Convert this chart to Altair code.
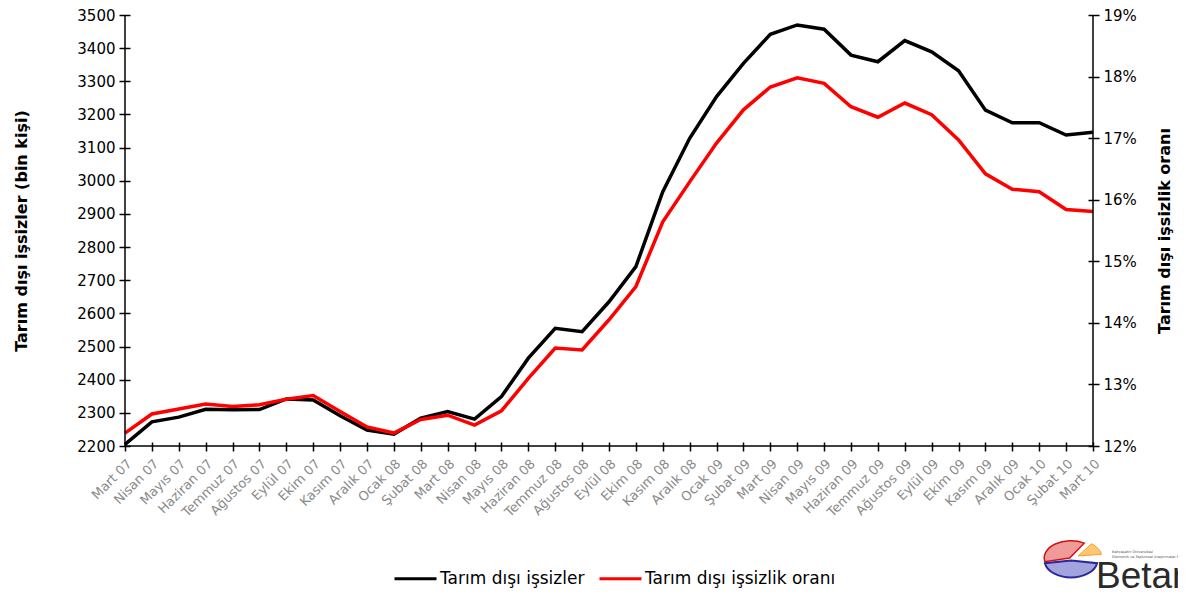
import altair as alt
import pandas as pd

months = ["Mart 07", "Nisan 07", "Mayıs 07", "Haziran 07", "Temmuz 07", "Ağustos 07",
          "Eylül 07", "Ekim 07", "Kasım 07", "Aralık 07", "Ocak 08", "Şubat 08",
          "Mart 08", "Nisan 08", "Mayıs 08", "Haziran 08", "Temmuz 08", "Ağustos 08",
          "Eylül 08", "Ekim 08", "Kasım 08", "Aralık 08", "Ocak 09", "Şubat 09",
          "Mart 09", "Nisan 09", "Mayıs 09", "Haziran 09", "Temmuz 09", "Ağustos 09",
          "Eylül 09", "Ekim 09", "Kasım 09", "Aralık 09", "Ocak 10", "Şubat 10", "Mart 10"]

unemployed = [2205, 2273, 2287, 2311, 2309, 2310, 2342, 2339, 2291, 2248, 2236, 2284,
              2304, 2281, 2349, 2465, 2555, 2545, 2635, 2741, 2967, 3128, 3254, 3354,
              3442, 3470, 3457, 3379, 3359, 3423, 3389, 3332, 3213, 3175, 3175, 3138, 3146]

rate = [12.21, 12.52, 12.60, 12.68, 12.64, 12.67, 12.76, 12.82, 12.56, 12.31, 12.21, 12.43,
        12.50, 12.34, 12.57, 13.10, 13.59, 13.56, 14.05, 14.59, 15.64, 16.29, 16.92, 17.46,
        17.83, 17.98, 17.89, 17.51, 17.34, 17.57, 17.38, 16.97, 16.42, 16.17, 16.13, 15.84, 15.81]

left_ticks = list(range(2200, 3501, 100))
right_ticks = [12, 13, 14, 15, 16, 17, 18, 19]

s1 = "Tarım dışı işsizler"
s2 = "Tarım dışı işsizlik oranı"

df = pd.DataFrame({"ay": months, "issiz": unemployed, "oran": rate})

W, H = 968, 431
FONT = "DejaVu Sans"

color = alt.Color(
    "seri:N",
    scale=alt.Scale(domain=[s1, s2], range=["#000000", "#ff0000"]),
    legend=alt.Legend(
        title=None, orient="none", direction="horizontal",
        legendX=268, legendY=541,
        symbolType="stroke", symbolStrokeWidth=3, symbolSize=1764,
        labelFont=FONT, labelFontSize=17, labelColor="#000000", labelLimit=400,
        columnPadding=8, labelOffset=2,
    ),
)

x = alt.X(
    "ay:O", sort=months, title=None,
    scale=alt.Scale(type="point", padding=0),
    axis=alt.Axis(labelAngle=-45, labelFont=FONT, labelFontSize=13, labelColor="#8a8a8a",
                  domain=False, offset=-4, tickSize=9, tickColor="#000000", tickWidth=1.5,
                  labelPadding=6, grid=False),
)

base = alt.Chart(df)

line1 = base.transform_calculate(seri=f"'{s1}'").mark_line(strokeWidth=3.5, color="#000000").encode(
    x=x,
    y=alt.Y("issiz:Q", scale=alt.Scale(domain=[2200, 3500], nice=False, zero=False),
            axis=alt.Axis(values=left_ticks, format="d", title="Tarım dışı işsizler (bin kişi)",
                          titleFont=FONT, titleFontSize=16, titleFontWeight="bold",
                          titleColor="#000000", titlePadding=47,
                          labelFont=FONT, labelFontSize=15, labelColor="#000000",
                          domain=False, offset=-5, tickSize=11, tickColor="#000000",
                          tickWidth=1.5, labelPadding=4, grid=False, orient="left")),
    color=color,
)

line2 = base.transform_calculate(seri=f"'{s2}'").mark_line(strokeWidth=3.5, color="#ff0000").encode(
    x=x,
    y=alt.Y("oran:Q", scale=alt.Scale(domain=[12, 19], nice=False, zero=False),
            axis=alt.Axis(values=right_ticks, title="Tarım dışı işsizlik oranı",
                          labelExpr="datum.value + '%'",
                          titleFont=FONT, titleFontSize=16, titleFontWeight="bold",
                          titleColor="#000000", titlePadding=36, titleAngle=-90,
                          labelFont=FONT, labelFontSize=15, labelColor="#000000",
                          domain=False, offset=-5, tickSize=11, tickColor="#000000",
                          tickWidth=1.5, labelPadding=4, grid=False, orient="right")),
    color=color,
)

rule_df = alt.Chart(pd.DataFrame({"k": [0]}))
left_rule = rule_df.mark_rule(color="#000000", strokeWidth=1.5).encode(
    x=alt.value(0), y=alt.value(0), y2=alt.value(H))
right_rule = rule_df.mark_rule(color="#000000", strokeWidth=1.5).encode(
    x=alt.value(W), y=alt.value(0), y2=alt.value(H))
bottom_rule = rule_df.mark_rule(color="#000000", strokeWidth=1.5).encode(
    x=alt.value(0), x2=alt.value(W), y=alt.value(H))

# Betam logo (decoration)
red_path = "M-0.05,0.0 L-0.985,0.14 A1,0.65 0 0,1 0.5,-0.56 Z"
blue_path = "M0,0.06 L0.985,0.16 A1,0.65 0 0,1 -0.985,0.16 Z"
orange_path = "M0.12,-0.04 L0.62,-0.5 A1,0.65 0 0,1 1.0,-0.1 Z"
pie_x, pie_y = 946, 543
red_slice = rule_df.mark_point(shape=red_path, size=2809, filled=True, fill="#f19a9a",
                               stroke="#d01010", strokeWidth=1.5, opacity=1).encode(
    x=alt.value(pie_x), y=alt.value(pie_y))
blue_slice = rule_df.mark_point(shape=blue_path, size=2809, filled=True, fill="#a3a3de",
                                stroke="#2a2a9a", strokeWidth=2, opacity=1).encode(
    x=alt.value(pie_x), y=alt.value(pie_y + 1))
orange_slice = rule_df.mark_point(shape=orange_path, size=2809, filled=True, fill="#ffc870",
                                  stroke="#f0a030", strokeWidth=1, opacity=1).encode(
    x=alt.value(pie_x + 4), y=alt.value(pie_y - 1))
small1 = rule_df.mark_text(text="Bahçeşehir Üniversitesi", font=FONT, fontSize=3.5,
                           color="#555555", align="left").encode(
    x=alt.value(987), y=alt.value(537))
small2 = rule_df.mark_text(text="Ekonomik ve Toplumsal Araştırmalar Merkezi", font=FONT,
                           fontSize=3.5, color="#555555", align="left").encode(
    x=alt.value(987), y=alt.value(542))
logo_text = rule_df.mark_text(text="Betam", font="Liberation Sans", fontSize=37,
                              color="#2a2a2a", align="left", baseline="alphabetic").encode(
    x=alt.value(971), y=alt.value(573))

chart = alt.layer(line1, line2).resolve_scale(y="independent")
chart = alt.layer(chart, left_rule, right_rule, bottom_rule,
                  red_slice, blue_slice, orange_slice, small1, small2, logo_text).properties(
    width=W, height=H,
    background="#ffffff",
    autosize=alt.AutoSizeParams(type="none"),
    padding={"left": 117, "top": 7, "right": 85, "bottom": 143},
).configure_view(strokeWidth=0, stroke="transparent")

chart.save("out.html", embed_options={"renderer": "svg", "actions": False})
